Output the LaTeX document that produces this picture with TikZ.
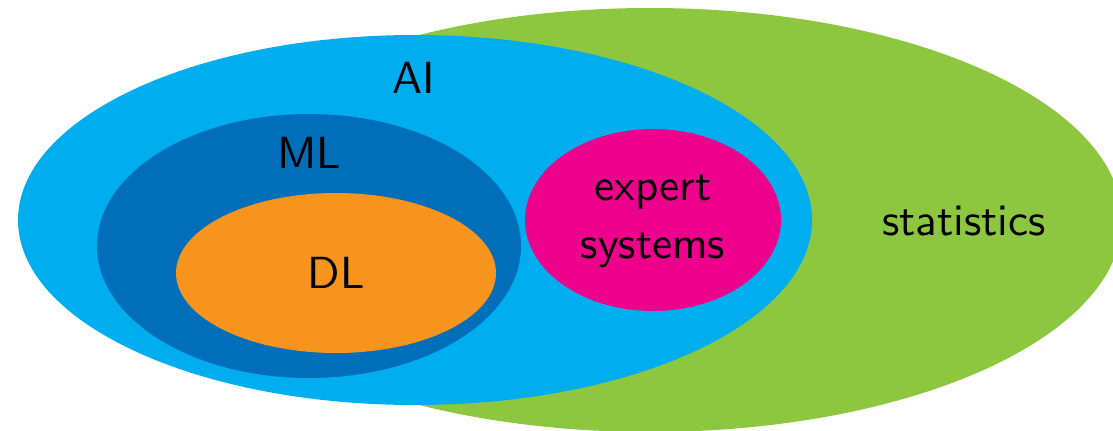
\documentclass[tikz,border=0pt]{standalone}
\usepackage{fontspec}
\setsansfont{lmsans10-regular}[Extension=.otf]
\usepackage{tikz}

\definecolor{statgreen}{RGB}{141,198,63}
\definecolor{aiblue}{RGB}{0,174,239}
\definecolor{mlblue}{RGB}{0,110,184}
\definecolor{dlorange}{RGB}{247,148,29}
\definecolor{expmagenta}{RGB}{236,0,140}

\tikzset{
  setlabel/.style={font=\fontsize{32}{41}\selectfont\sffamily, text=black, inner sep=0pt}
}

\begin{document}
\begin{tikzpicture}[x=0.025cm, y=0.025cm] % 1 unit = 1 pixel of the reference
      \useasboundingbox (0,0) rectangle (1113,430);

      % Draw statistics ellipse
      \fill [statgreen] (650,210) ellipse (472 and 212);

      % Draw AI ellipse
      \fill [aiblue] (415,210) ellipse (397 and 185);

      % Draw ML and DL ellipses
      \fill [mlblue] (309,184) ellipse (212 and 132);
      \fill [dlorange] (336,157) ellipse (160 and 80);

      % Draw expert systems ellipse
      \fill [expmagenta] (653,210) ellipse (128 and 91);

      % Add labels
      \node [setlabel, anchor=base] (ai) at (414,337) {AI};
      \node [setlabel, anchor=base] (ml) at (309,262) {ML};
      \node [setlabel, anchor=base] (dl) at (336,141.5) {DL};
      \node [setlabel, align=center] (es) at (653,208.5) {expert\\systems};
      \node [setlabel, anchor=base] (stat) at (964,195) {statistics};
  \end{tikzpicture}
\end{document}
